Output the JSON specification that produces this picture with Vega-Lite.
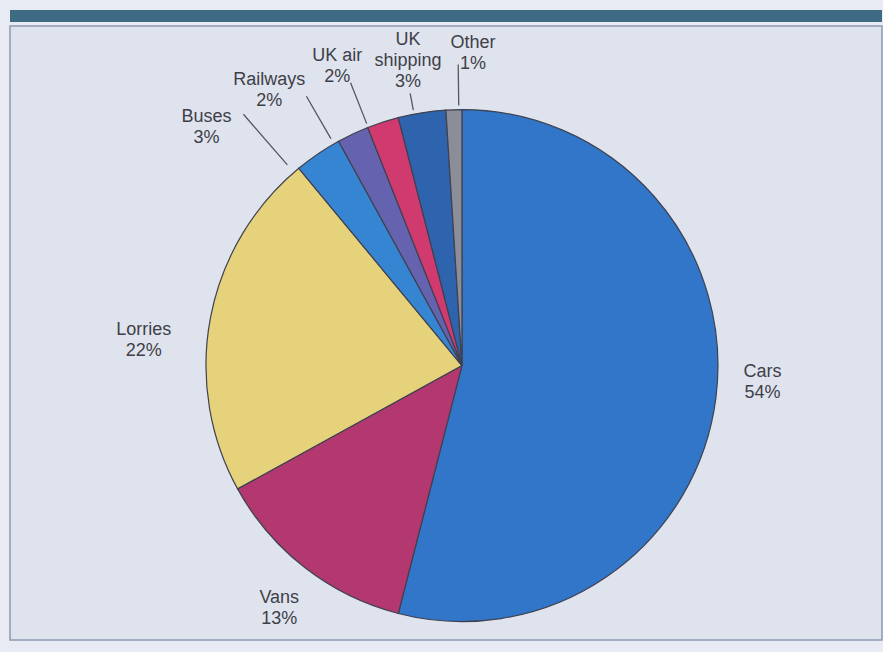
{
  "$schema": "https://vega.github.io/schema/vega-lite/v6.json",
  "background": "#e8ebf3",
  "padding": {"left": 9, "top": 10, "right": 0, "bottom": 14},
  "spacing": 0,
  "config": {
    "font": "Liberation Sans",
    "text": {"font": "Liberation Sans", "fontSize": 18, "lineHeight": 21, "fill": "#3e4047", "align": "center", "baseline": "middle", "lineBreak": "\n"}
  },
  "vconcat": [
    {
      "width": 872,
      "height": 12,
      "view": {"fill": "#3e6a83", "stroke": null},
      "data": {"values": []},
      "mark": {"type": "text"},
      "encoding": {"text": {"value": ""}}
    },
    {
      "width": 872,
      "height": 614,
      "view": {"fill": "#dfe3ee", "stroke": "#8f9bb1", "strokeWidth": 1.5},
      "data": {
        "values": [
          {"category": "Cars", "share": 54, "label": "Cars\n54%"},
          {"category": "Vans", "share": 13, "label": "Vans\n13%"},
          {"category": "Lorries", "share": 22, "label": "Lorries\n22%"},
          {"category": "Buses", "share": 3, "label": "Buses\n3%"},
          {"category": "Railways", "share": 2, "label": "Railways\n2%"},
          {"category": "UK air", "share": 2, "label": "UK air\n2%"},
          {"category": "UK shipping", "share": 3, "label": "UK\nshipping\n3%"},
          {"category": "Other", "share": 1, "label": "Other\n1%"}
        ]
      },
      "transform": [{"window": [{"op": "row_number", "as": "idx"}]}],
      "encoding": {
        "theta": {"field": "share", "type": "quantitative", "stack": true},
        "order": {"field": "idx", "type": "quantitative"},
        "x": {"datum": 0.5183, "type": "quantitative", "scale": {"domain": [0, 1], "nice": false, "zero": false}, "axis": null},
        "y": {"datum": 0.553, "type": "quantitative", "scale": {"domain": [0, 1], "nice": false, "zero": false, "reverse": true}, "axis": null}
      },
      "layer": [
        {
          "mark": {"type": "arc", "outerRadius": 256, "stroke": "#3f4150", "strokeWidth": 1.2},
          "encoding": {
            "color": {
              "field": "category",
              "type": "nominal",
              "scale": {
                "domain": ["Cars", "Vans", "Lorries", "Buses", "Railways", "UK air", "UK shipping", "Other"],
                "range": ["#3176c8", "#b2386f", "#e5d27b", "#3585d3", "#6563b0", "#d03a6e", "#2e63ae", "#8b8e98"]
              },
              "legend": null
            }
          }
        },
        {
          "mark": {"type": "arc", "innerRadius": 266, "outerRadius": 333, "padAngle": 3.0, "fill": null, "stroke": "#55575f", "strokeWidth": 1.3, "thetaOffset": -0.119, "theta2Offset": -0.119},
          "encoding": {"strokeOpacity": {"condition": {"test": "datum.category === 'Buses'", "value": 1}, "value": 0}}
        },
        {
          "mark": {"type": "arc", "innerRadius": 262, "outerRadius": 311, "padAngle": 3.0, "fill": null, "stroke": "#55575f", "strokeWidth": 1.3, "thetaOffset": -0.084, "theta2Offset": -0.084},
          "encoding": {"strokeOpacity": {"condition": {"test": "datum.category === 'Railways'", "value": 1}, "value": 0}}
        },
        {
          "mark": {"type": "arc", "innerRadius": 260, "outerRadius": 304, "padAngle": 3.0, "fill": null, "stroke": "#55575f", "strokeWidth": 1.3, "thetaOffset": -0.061, "theta2Offset": -0.061},
          "encoding": {"strokeOpacity": {"condition": {"test": "datum.category === 'UK air'", "value": 1}, "value": 0}}
        },
        {
          "mark": {"type": "arc", "innerRadius": 260, "outerRadius": 277, "padAngle": 3.0, "fill": null, "stroke": "#55575f", "strokeWidth": 1.3, "thetaOffset": -0.031, "theta2Offset": -0.031},
          "encoding": {"strokeOpacity": {"condition": {"test": "datum.category === 'UK shipping'", "value": 1}, "value": 0}}
        },
        {
          "mark": {"type": "arc", "innerRadius": 260, "outerRadius": 301, "padAngle": 3.0, "fill": null, "stroke": "#55575f", "strokeWidth": 1.3, "thetaOffset": 0.019, "theta2Offset": 0.019},
          "encoding": {"strokeOpacity": {"condition": {"test": "datum.category === 'Other'", "value": 1}, "value": 0}}
        },
        {
          "mark": {"type": "text", "radius": 302, "dx": 1, "dy": -31},
          "encoding": {"text": {"condition": {"test": "datum.category === 'Cars'", "field": "label", "type": "nominal"}, "value": ""}}
        },
        {
          "mark": {"type": "text", "radius": 303, "dx": 3, "dy": -7},
          "encoding": {"text": {"condition": {"test": "datum.category === 'Vans'", "field": "label", "type": "nominal"}, "value": ""}}
        },
        {
          "mark": {"type": "text", "radius": 322, "dx": -2, "dy": 25},
          "encoding": {"text": {"condition": {"test": "datum.category === 'Lorries'", "field": "label", "type": "nominal"}, "value": ""}}
        },
        {
          "mark": {"type": "text", "radius": 353, "dx": -57, "dy": 43},
          "encoding": {"text": {"condition": {"test": "datum.category === 'Buses'", "field": "label", "type": "nominal"}, "value": ""}}
        },
        {
          "mark": {"type": "text", "radius": 333, "dx": -51, "dy": 16},
          "encoding": {"text": {"condition": {"test": "datum.category === 'Railways'", "field": "label", "type": "nominal"}, "value": ""}}
        },
        {
          "mark": {"type": "text", "radius": 329, "dx": -23, "dy": 3},
          "encoding": {"text": {"condition": {"test": "datum.category === 'UK air'", "field": "label", "type": "nominal"}, "value": ""}}
        },
        {
          "mark": {"type": "text", "radius": 313, "dx": -5, "dy": -16.5},
          "encoding": {"text": {"condition": {"test": "datum.category === 'UK shipping'", "field": "label", "type": "nominal"}, "value": ""}}
        },
        {
          "mark": {"type": "text", "radius": 314, "dx": 21, "dy": -9},
          "encoding": {"text": {"condition": {"test": "datum.category === 'Other'", "field": "label", "type": "nominal"}, "value": ""}}
        }
      ]
    }
  ]
}
